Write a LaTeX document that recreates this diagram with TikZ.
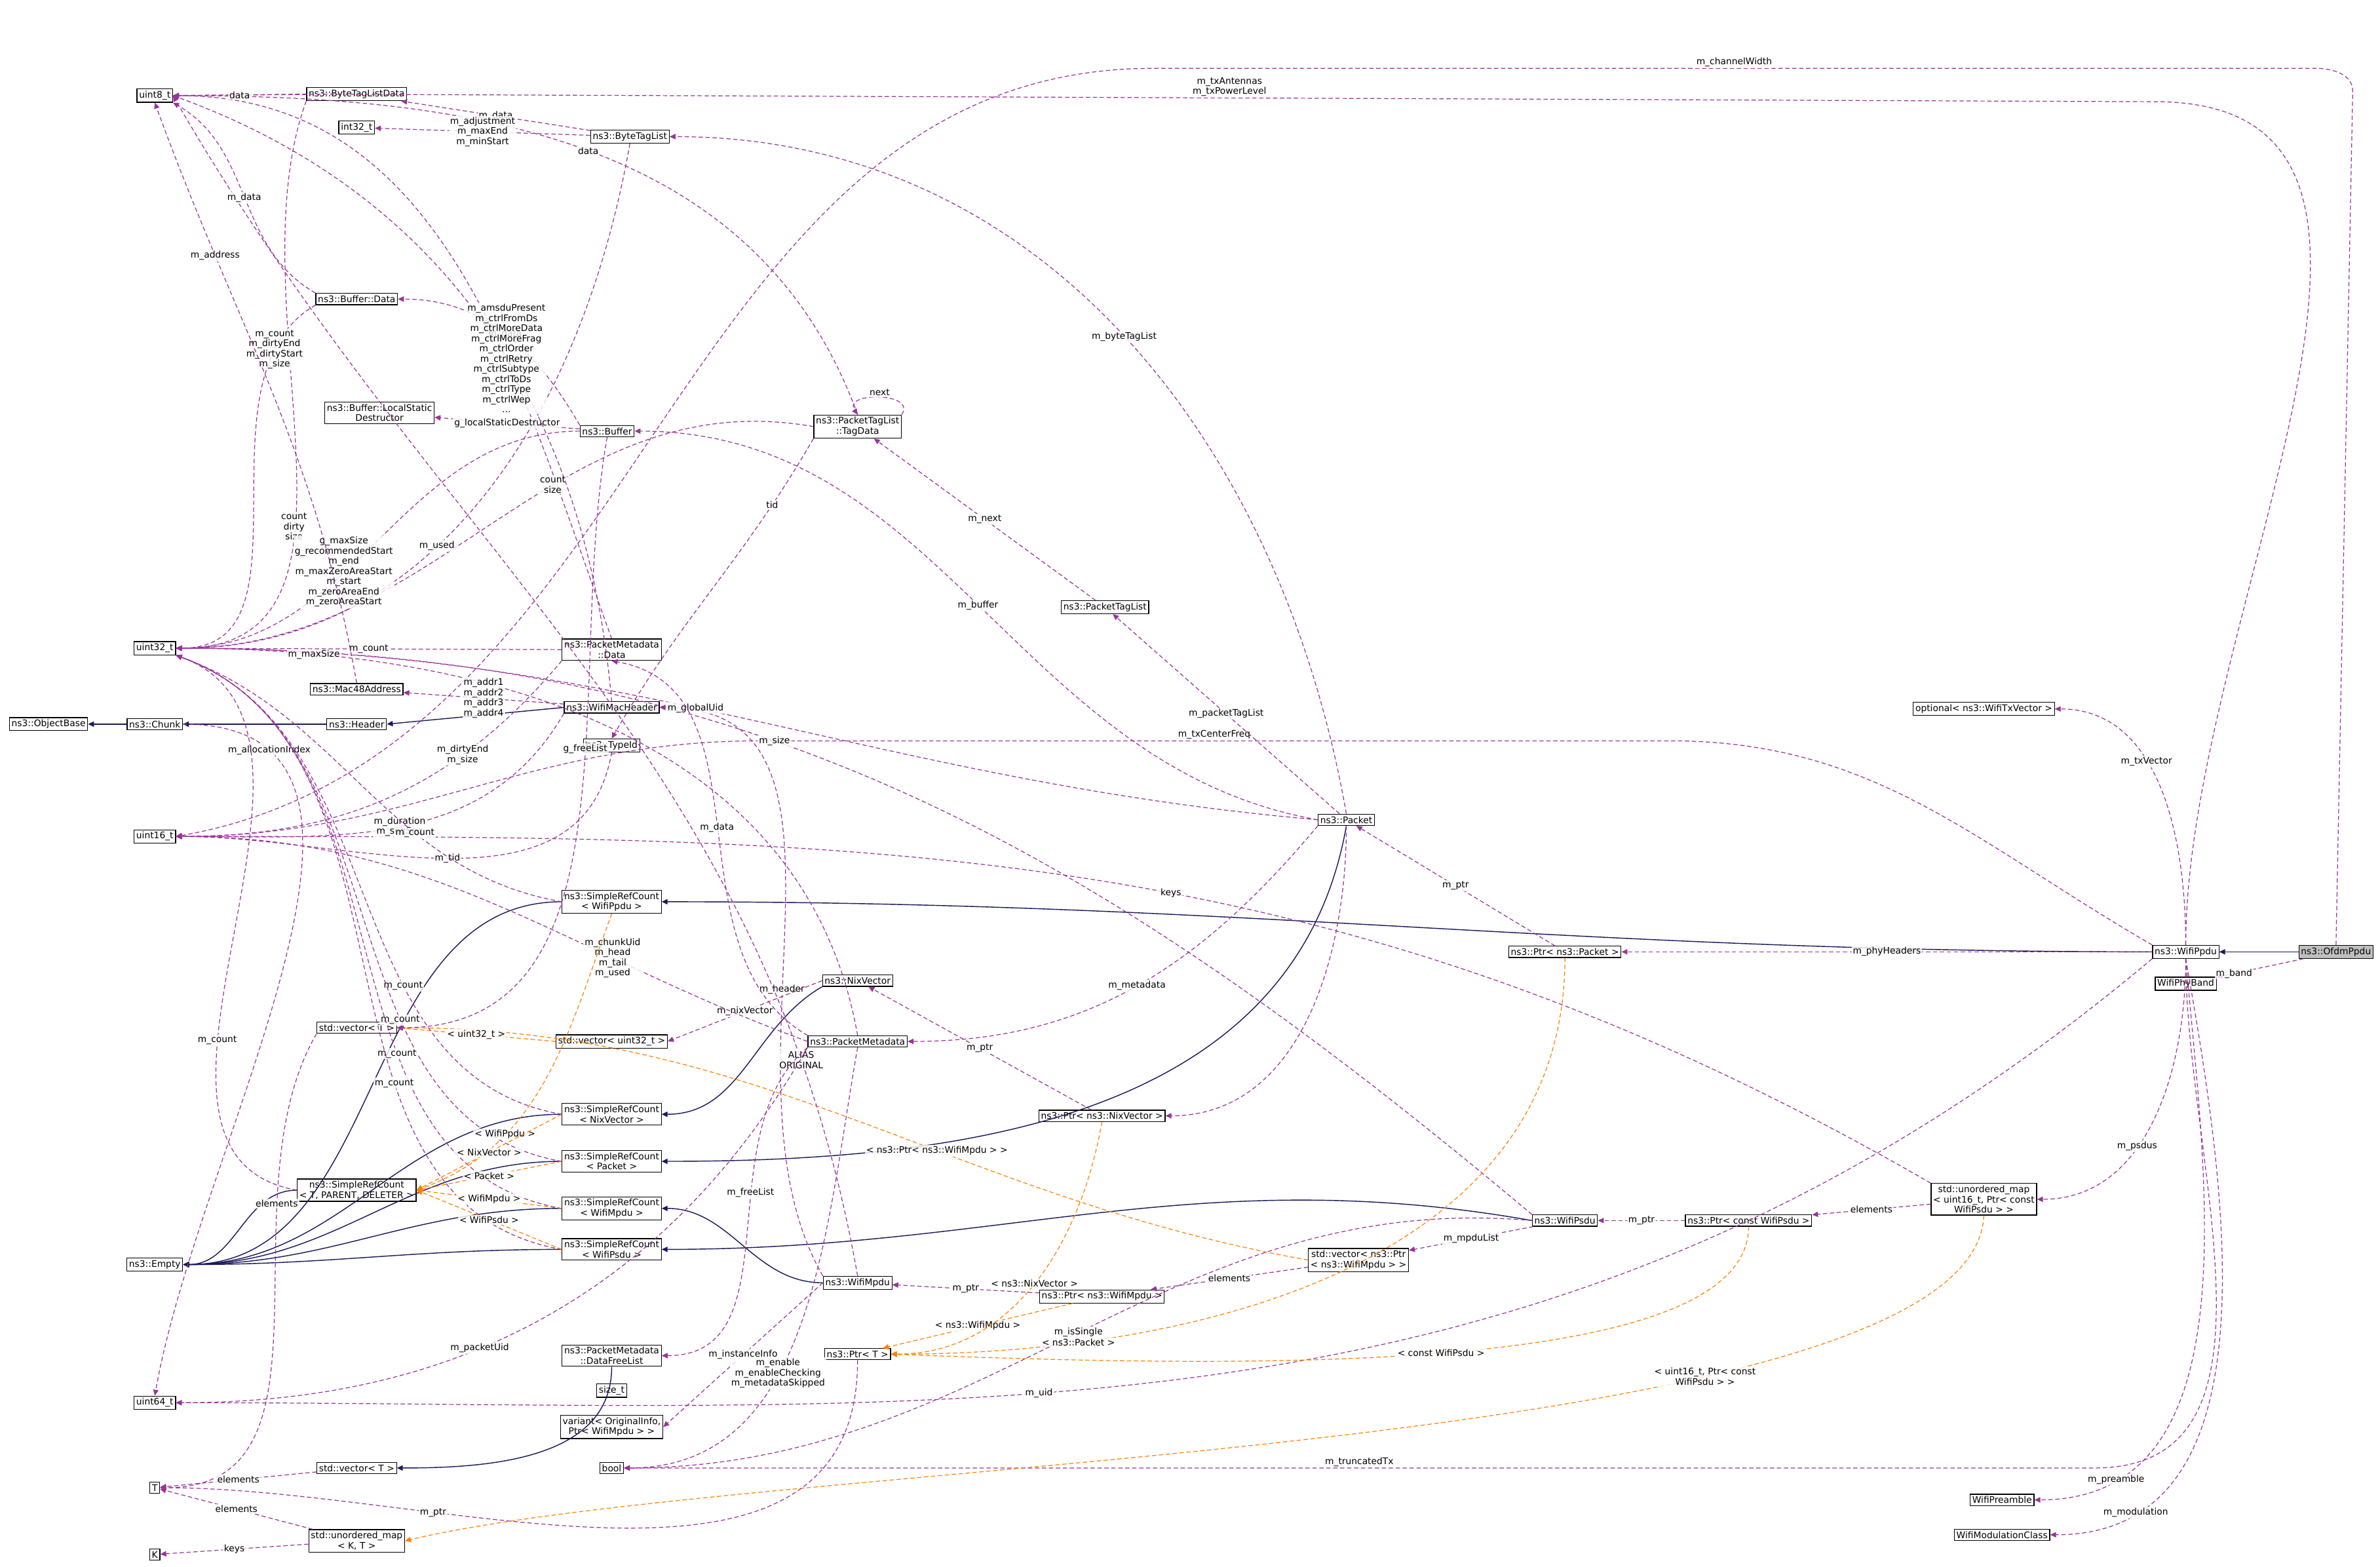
\documentclass[tikz,border=0pt]{standalone}
\usepackage{fontspec}
\setmainfont{DejaVu Sans}
\usetikzlibrary{arrows.meta}
\tikzset{
  cls/.style={draw, fill=white, line width=0.3pt, inner sep=0.8pt, align=center, font=\fontsize{3.4}{3.8}\selectfont},
  inh/.style={draw=blue!30!black!90, line width=0.35pt, -{Triangle[width=2pt,length=2.2pt]}},
  use/.style={draw=violet!80!white, dashed, dash pattern=on 1.6pt off 1pt, line width=0.3pt, -{Triangle[width=2pt,length=2.2pt]}},
  tmpl/.style={draw=orange, dashed, dash pattern=on 1.6pt off 1pt, line width=0.3pt, -{Triangle[width=2pt,length=2.2pt]}},
  lbl/.style={font=\fontsize{3.4}{3.8}\selectfont, align=center, inner sep=0.5pt, fill=white, fill opacity=0.8, text opacity=1}
}
\begin{document}
\begin{tikzpicture}[x=0.02cm, y=-0.02cm]
\useasboundingbox (0,0) rectangle (1568,1032);
% classes
\node[cls, fill=gray!50] (ofdm) at (1539,627) {ns3::OfdmPpdu};
\node[cls] (ppdu) at (1440,627) {ns3::WifiPpdu};
\node[cls] (band) at (1440,648) {WifiPhyBand};
\node[cls] (txvec) at (1307,467) {optional< ns3::WifiTxVector >};
\node[cls] (pream) at (1319,988) {WifiPreamble};
\node[cls] (modcl) at (1319,1011) {WifiModulationClass};
\node[cls] (umap) at (1307,790) {std::unordered\_map\\< uint16\_t, Ptr< const\\ WifiPsdu > >};
\node[cls] (ptrcpsdu) at (1152,804) {ns3::Ptr< const WifiPsdu >};
\node[cls] (psdu) at (1031,804) {ns3::WifiPsdu};
\node[cls] (vecmpdu) at (895,830) {std::vector< ns3::Ptr\\< ns3::WifiMpdu > >};
\node[cls] (ptrmpdu) at (726,854) {ns3::Ptr< ns3::WifiMpdu >};
\node[cls] (ptrpkt) at (1031,627) {ns3::Ptr< ns3::Packet >};
\node[cls] (pkt) at (887,540) {ns3::Packet};
\node[cls] (ptl) at (728,400) {ns3::PacketTagList};
\node[cls] (tagdata) at (565,281) {ns3::PacketTagList\\::TagData};
\node[cls] (btl) at (415,90) {ns3::ByteTagList};
\node[cls] (btld) at (235,62) {ns3::ByteTagListData};
\node[cls] (int32) at (235,84) {int32\_t};
\node[cls] (uint8) at (102,63) {uint8\_t};
\node[cls] (bufdata) at (235,197) {ns3::Buffer::Data};
\node[cls] (lsd) at (250,272) {ns3::Buffer::LocalStatic\\Destructor};
\node[cls] (buf) at (400,284) {ns3::Buffer};
\node[cls] (uint32) at (102,427) {uint32\_t};
\node[cls] (mac48) at (235,454) {ns3::Mac48Address};
\node[cls] (pmdata) at (403,428) {ns3::PacketMetadata\\::Data};
\node[cls] (machdr) at (403,466) {ns3::WifiMacHeader};
\node[cls] (typeid) at (403,491) {ns3::TypeId};
\node[cls] (objbase) at (32,477) {ns3::ObjectBase};
\node[cls] (chunk) at (102,477) {ns3::Chunk};
\node[cls] (header) at (235,477) {ns3::Header};
\node[cls] (uint16) at (102,551) {uint16\_t};
\node[cls] (srcppdu) at (403,594) {ns3::SimpleRefCount\\< WifiPpdu >};
\node[cls] (vecT) at (235,677) {std::vector< T >};
\node[cls] (vecu32) at (403,686) {std::vector< uint32\_t >};
\node[cls] (nix) at (565,646) {ns3::NixVector};
\node[cls] (pmeta) at (565,686) {ns3::PacketMetadata};
\node[cls] (ptrnix) at (726,735) {ns3::Ptr< ns3::NixVector >};
\node[cls] (srcnix) at (403,734) {ns3::SimpleRefCount\\< NixVector >};
\node[cls] (srcpkt) at (403,765) {ns3::SimpleRefCount\\< Packet >};
\node[cls] (srcT) at (235,784) {ns3::SimpleRefCount\\< T, PARENT, DELETER >};
\node[cls] (srcmpdu) at (403,796) {ns3::SimpleRefCount\\< WifiMpdu >};
\node[cls] (srcpsdu) at (403,823) {ns3::SimpleRefCount\\< WifiPsdu >};
\node[cls] (empty) at (102,833) {ns3::Empty};
\node[cls] (mpdu) at (565,845) {ns3::WifiMpdu};
\node[cls] (ptrT) at (565,892) {ns3::Ptr< T >};
\node[cls] (freelist) at (403,893) {ns3::PacketMetadata\\::DataFreeList};
\node[cls] (sizet) at (403,916) {size\_t};
\node[cls] (variant) at (403,940) {variant< OriginalInfo,\\ Ptr< WifiMpdu > >};
\node[cls] (bool) at (403,967) {bool};
\node[cls] (uint64) at (102,924) {uint64\_t};
\node[cls] (vecT2) at (235,967) {std::vector< T >};
\node[cls] (T) at (102,980) {T};
\node[cls] (umapKT) at (235,1015) {std::unordered\_map\\< K, T >};
\node[cls] (K) at (102,1024) {K};
% inheritance
\draw[inh] (ofdm) -- (ppdu);
\draw[inh] (ppdu.west) to[out=180,in=0] (srcppdu.east);
\draw[inh] (psdu.west) to[out=170,in=0] (srcpsdu.east);
\draw[inh] (mpdu.west) to[out=180,in=0] (srcmpdu.east);
\draw[inh] (pkt.south) to[out=-100,in=0] (srcpkt.east);
\draw[inh] (nix.south west) to[out=-150,in=0] (srcnix.east);
\draw[inh] (machdr.west) -- (header.east);
\draw[inh] (header) -- (chunk);
\draw[inh] (chunk) -- (objbase);
\draw[inh] (freelist.south) to[out=-90,in=0] (vecT2.east);
\foreach \s in {srcppdu,srcnix,srcpkt,srcmpdu,srcpsdu,srcT}
  \draw[inh] (\s.west) to[out=180,in=0] (empty.east);
% usage
\path[use] (ofdm) -- node[lbl,pos=0.8] {m\_band} (band);
\path[use] (ofdm.north) -- (1550,60) to[out=90,in=0] (1525,45) -- node[lbl,above] {m\_channelWidth} (760,45) to[out=180,in=10] (uint16.east);
\path[use] (ppdu.north) to[out=90,in=0] (1420,67) -- node[lbl,above] {m\_txAntennas\\m\_txPowerLevel} (200,62) -- (uint8.east);
\path[use] (ppdu) to[out=90,in=0] node[lbl,pos=0.6] {m\_txVector} (txvec.east);
\path[use] (ppdu.north west) to[out=150,in=0] (1100,488) -- node[lbl,above] {m\_txCenterFreq} (500,488) to[out=180,in=0] (uint16.east);
\path[use] (ppdu) -- node[lbl] {m\_phyHeaders} (ptrpkt);
\path[use] (ppdu.south) to[out=-90,in=0] node[lbl,pos=0.6] {m\_psdus} (umap.east);
\path[use] (ppdu.south west) to[out=-140,in=0] node[lbl,pos=0.6] {m\_uid} (uint64.east);
\path[use] (ppdu.south) to[out=-90,in=0] (1380,967) -- node[lbl,above] {m\_truncatedTx} (bool.east);
\path[use] (ppdu.south) to[out=-85,in=0] node[lbl,pos=0.85] {m\_preamble} (pream.east);
\path[use] (ppdu.south) to[out=-80,in=0] node[lbl,pos=0.85] {m\_modulation} (modcl.east);
\path[use] (umap) -- node[lbl] {elements} (ptrcpsdu);
\path[use] (umap.north west) to[out=150,in=0] node[lbl,pos=0.45] {keys} (uint16.east);
\path[tmpl] (umap.south) .. controls (1300,960) and (500,960) .. node[lbl,pos=0.3] {< uint16\_t, Ptr< const\\ WifiPsdu > >} (umapKT.east);
\path[use] (ptrcpsdu) -- node[lbl] {m\_ptr} (psdu);
\path[tmpl] (ptrcpsdu.south) .. controls (1152,910) and (800,900) .. node[lbl,pos=0.5] {< const WifiPsdu >} (ptrT.east);
\path[use] (psdu) -- node[lbl] {m\_mpduList} (vecmpdu);
\path[use] (psdu.west) to[out=175,in=0] node[lbl,pos=0.5] {m\_isSingle} (bool.east);
\path[use] (psdu.north west) to[out=140,in=0] node[lbl,pos=0.6] {m\_size} (uint32.east);
\path[use] (vecmpdu) -- node[lbl] {elements} (ptrmpdu);
\path[tmpl] (vecmpdu.west) to[out=170,in=0] node[lbl,pos=0.4] {< ns3::Ptr< ns3::WifiMpdu > >} (vecT.east);
\path[use] (ptrmpdu) -- node[lbl] {m\_ptr} (mpdu);
\path[tmpl] (ptrmpdu) -- node[lbl] {< ns3::WifiMpdu >} (ptrT);
\path[use] (mpdu.west) -- node[lbl] {m\_instanceInfo} (variant.east);
\path[use] (mpdu.north west) to[out=120,in=0] node[lbl,pos=0.4] {m\_header} (machdr.east);
\path[use] (mpdu.north) to[out=100,in=-60] node[lbl,pos=0.15] {ALIAS\\ORIGINAL} (uint8.east);
\path[use] (ptrT.south) to[out=-90,in=0] node[lbl,pos=0.7] {m\_ptr} (T.east);
\path[use] (pkt.west) to[out=170,in=0] node[lbl,pos=0.5] {m\_buffer} (buf.east);
\path[use] (pkt) -- node[lbl] {m\_packetTagList} (ptl);
\path[use] (pkt.north) to[out=100,in=0] node[lbl,pos=0.5] {m\_byteTagList} (btl.east);
\path[use] (pkt.south west) to[out=-130,in=0] node[lbl,pos=0.5] {m\_metadata} (pmeta.east);
\path[use] (pkt.south) to[out=-90,in=0] (ptrnix.east);
\path[use] (pkt.west) to[out=175,in=0] node[lbl,pos=0.55] {m\_globalUid} (uint32.east);
\path[use] (ptrpkt) -- node[lbl] {m\_ptr} (pkt);
\path[tmpl] (ptrpkt.south) to[out=-90,in=0] node[lbl,pos=0.8] {< ns3::Packet >} (ptrT.east);
\path[use] (ptrnix) -- node[lbl] {m\_ptr} (nix);
\path[tmpl] (ptrnix.south) to[out=-100,in=0] node[lbl,pos=0.5] {< ns3::NixVector >} (ptrT.east);
\path[use] (nix.west) -- node[lbl] {m\_nixVector} (vecu32.east);
\path[use] (pmeta.north west) to[out=150,in=-10] node[lbl,pos=0.5] {m\_data} (pmdata.south);
\path[use] (pmeta.west) to[out=160,in=0] node[lbl,pos=0.3] {m\_chunkUid\\m\_head\\m\_tail\\m\_used} (uint16.east);
\path[use] (pmeta.south west) to[out=-120,in=0] node[lbl,pos=0.6] {m\_packetUid} (uint64.east);
\path[use] (pmeta.south) to[out=-100,in=0] node[lbl,pos=0.6] {m\_enable\\m\_enableChecking\\m\_metadataSkipped} (bool.east);
\path[use] (pmeta.south west) to[out=-140,in=0] node[lbl,pos=0.4] {m\_freeList} (freelist.east);
\path[use] (pmeta.north) to[out=100,in=0] node[lbl,pos=0.85] {m\_maxSize} (uint32.east);
\path[use] (pmdata.north) to[out=110,in=0] (uint8.east);
\path[use] (pmdata) -- node[lbl] {m\_count} (uint32);
\path[use] (pmdata.south west) to[out=-130,in=0] node[lbl,pos=0.3] {m\_dirtyEnd\\m\_size} (uint16.east);
\path[tmpl] (vecu32.west) -- node[lbl] {< uint32\_t >} (vecT.east);
\path[use] (ptl) -- node[lbl] {m\_next} (tagdata);
\path[use] (tagdata.north east) .. controls +(10,-15) and +(-10,-15) .. node[lbl,above] {next} (tagdata.north);
\path[use] (tagdata.north) to[out=110,in=0] node[lbl,pos=0.5] {data} (uint8.east);
\path[use] (tagdata.west) to[out=170,in=0] node[lbl,pos=0.4] {count\\size} (uint32.east);
\path[use] (tagdata.south west) to[out=-120,in=60] node[lbl,pos=0.2] {tid} (typeid.north);
\path[use] (typeid.south) to[out=-100,in=0] node[lbl,pos=0.5] {m\_tid} (uint16.east);
\path[use] (btl) -- node[lbl] {m\_data} (btld);
\path[use] (btl) -- node[lbl] {m\_adjustment\\m\_maxEnd\\m\_minStart} (int32);
\path[use] (btl.south) to[out=-100,in=0] node[lbl,pos=0.6] {m\_used} (uint32.east);
\path[use] (btld) -- node[lbl] {data} (uint8);
\path[use] (btld.south west) to[out=-110,in=0] node[lbl,pos=0.62] {count\\dirty\\size} (uint32.east);
\path[use] (buf.north west) to[out=120,in=0] node[lbl,pos=0.5] {m\_data} (bufdata.east);
\path[use] (buf) -- node[lbl] {g\_localStaticDestructor} (lsd);
\path[use] (buf.south) to[out=-100,in=0] node[lbl,pos=0.4] {g\_freeList} (vecT.east);
\path[use] (buf.west) to[out=180,in=0] node[lbl,pos=0.6] {g\_maxSize\\g\_recommendedStart\\m\_end\\m\_maxZeroAreaStart\\m\_start\\m\_zeroAreaEnd\\m\_zeroAreaStart} (uint32.east);
\path[use] (bufdata.north west) to[out=150,in=-30] node[lbl,pos=0.5] {m\_data} (uint8.south east);
\path[use] (bufdata.south west) to[out=-150,in=0] node[lbl,pos=0.15] {m\_count\\m\_dirtyEnd\\m\_dirtyStart\\m\_size} (uint32.east);
\path[use] (machdr.north) to[out=95,in=-20] node[lbl,pos=0.45] {m\_amsduPresent\\m\_ctrlFromDs\\m\_ctrlMoreData\\m\_ctrlMoreFrag\\m\_ctrlOrder\\m\_ctrlRetry\\m\_ctrlSubtype\\m\_ctrlToDs\\m\_ctrlType\\m\_ctrlWep\\...} (uint8.east);
\path[use] (machdr) -- node[lbl] {m\_addr1\\m\_addr2\\m\_addr3\\m\_addr4} (mac48);
\path[use] (machdr.south west) to[out=-120,in=0] node[lbl,pos=0.5] {m\_duration\\m\_seqSeq} (uint16.east);
\path[use] (mac48.north) to[out=100,in=-70] node[lbl,pos=0.75] {m\_address} (uint8.south);
\path[use] (chunk.east) to[out=0,in=80] node[lbl,pos=0.15] {m\_allocationIndex} (uint64.north);
\foreach \s in {srcppdu,srcnix,srcpkt,srcmpdu,srcpsdu,srcT}
  \path[use] (\s.west) to[out=170,in=-20] node[lbl,pos=0.35] {m\_count} (uint32.south east);
\path[tmpl] (srcppdu.south) to[out=-110,in=20] node[lbl,pos=0.7] {< WifiPpdu >} (srcT.east);
\path[tmpl] (srcnix.west) -- node[lbl] {< NixVector >} (srcT.east);
\path[tmpl] (srcpkt.west) -- node[lbl] {< Packet >} (srcT.east);
\path[tmpl] (srcmpdu.west) -- node[lbl] {< WifiMpdu >} (srcT.east);
\path[tmpl] (srcpsdu.west) -- node[lbl] {< WifiPsdu >} (srcT.east);
\path[use] (vecT.south west) to[out=-120,in=0] node[lbl,pos=0.3] {elements} (T.east);
\path[use] (vecT2) -- node[lbl] {elements} (T);
\path[use] (umapKT) -- node[lbl] {elements} (T);
\path[use] (umapKT) -- node[lbl] {keys} (K);
\end{tikzpicture}
\end{document}
